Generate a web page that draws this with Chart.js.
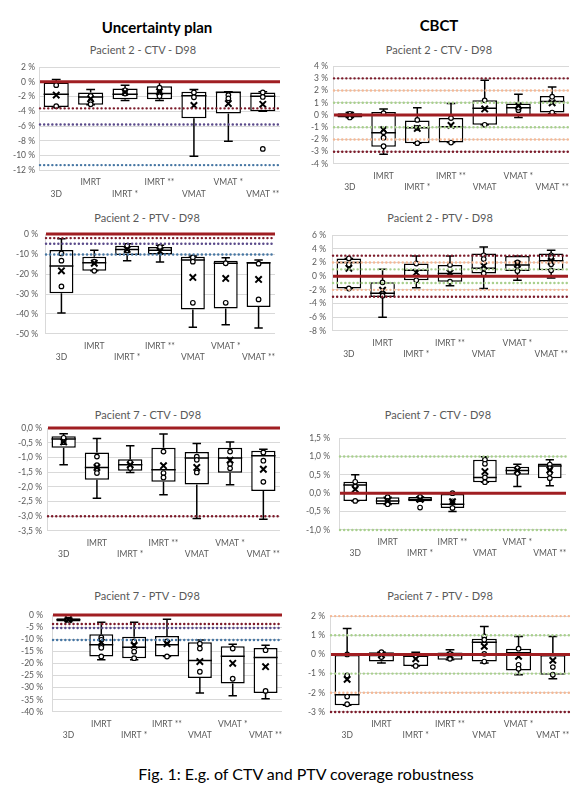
<!DOCTYPE html>
<html>
<head>
<meta charset="utf-8">
<script src="https://cdn.jsdelivr.net/npm/chart.js@4.4.0/dist/chart.umd.min.js"></script>
<style>
body { margin: 0; background: #fff; }
#page { position: relative; width: 586px; height: 800px; font-family: Lato, sans-serif; }
canvas { position: absolute; }
.head { position: absolute; font-weight: bold; font-size: 15px; transform: translate(-50%, -50%); white-space: nowrap; color: #000; }
.sub { position: absolute; font-size: 11px; transform: translate(-50%, -50%); white-space: nowrap; color: #595959; }
#caption { position: absolute; left: 306px; top: 773px; font-size: 16px; transform: translate(-50%, -50%); white-space: nowrap; color: #000; }
</style>
</head>
<body>
<div id="page">
  <div class="head" style="left:157px;top:27px">Uncertainty plan</div>
  <div class="head" style="left:439px;top:25px">CBCT</div>
  <div class="sub" style="left:143px;top:49px">Pacient 2 - CTV - D98</div>
  <div class="sub" style="left:439px;top:49px">Pacient 2 - CTV - D98</div>
  <div class="sub" style="left:147px;top:217px">Pacient 2 - PTV - D98</div>
  <div class="sub" style="left:440px;top:217px">Pacient 2 - PTV - D98</div>
  <div class="sub" style="left:148px;top:414px">Pacient 7 - CTV - D98</div>
  <div class="sub" style="left:438px;top:414px">Pacient 7 - CTV - D98</div>
  <div class="sub" style="left:147px;top:595px">Pacient 7 - PTV - D98</div>
  <div class="sub" style="left:440px;top:595px">Pacient 7 - PTV - D98</div>
  <canvas id="c1"></canvas>
  <canvas id="c2"></canvas>
  <canvas id="c3"></canvas>
  <canvas id="c4"></canvas>
  <canvas id="c5"></canvas>
  <canvas id="c6"></canvas>
  <canvas id="c7"></canvas>
  <canvas id="c8"></canvas>
  <div id="caption">Fig. 1: E.g. of CTV and PTV coverage robustness</div>
</div>
<script>
var categories = ['3D', 'IMRT', 'IMRT *', 'IMRT **', 'VMAT', 'VMAT *', 'VMAT **'];

// box rows: [min, q1, median, q3, max] in %
var p2CtvUncBox = [[-3.4,-3.4,-1.7,-0.1,0.3],[-3.1,-3.1,-2.05,-1.45,-1.05],[-2.55,-2.35,-1.7,-0.9,-0.45],[-2.55,-2.35,-1.6,-0.6,0],[-10.1,-4.95,-1.9,-1.35,-1.05],[-8.05,-4.3,-1.4,-1.35,-1.35],[-4.0,-4.0,-1.95,-1.45,-1.35]];
var p2CtvUncMean = [-1.8, -2.3, -1.4, -1.35, -3.2, -2.95, -3.05];
var p2CtvUncPts = [[-0.45,-3.3],[-1.9,-2.6,-3.05],[-1.15,-1.6],[-0.8,-1.45,-1.95],[-1.45,-2.1],[-1.8,-2.25],[-1.45,-2.05,-9.1]];
var p2CtvUncRefs = [0, -3.6, -5.8, -11.3];

var p2CtvCbctBox = [[-0.2,-0.2,-0.05,0.15,0.2],[-3.2,-2.6,-1.45,0.25,0.5],[-2.3,-2.3,-1.05,-0.45,0.6],[-2.25,-2.25,-0.95,-0.25,0.95],[-0.8,-0.8,0.55,1.2,2.85],[-0.2,-0.05,0.6,0.95,1.7],[0.1,0.2,1.1,1.55,2.3]];
var p2CtvCbctMean = [0, -1.2, -1.1, -0.85, 0.5, 0.75, 1.0];
var p2CtvCbctPts = [[0.1,-0.2],[0.15,-1.4,-1.85,-2.55],[-0.4,-1.05,-2.3],[-0.25,-2.25],[1.2,-0.8],[0.4,0.6],[1.5,0.2]];

var p2PtvUncBox = [[-39.5,-29.6,-16,-8,-2.3],[-18.4,-18.4,-14.3,-11.3,-8.1],[-13.3,-10.5,-7.7,-5.8,-4.8],[-14,-10.2,-8.1,-6.4,-5.6],[-46.7,-37.7,-13,-11.3,-11],[-45.4,-37.3,-14.6,-13.3,-11.8],[-47,-36.5,-14.3,-14.1,-13]];
var p2PtvUncMean = [-18.4, -14.6, -7.7, -8.6, -21.7, -22.2, -22.7];
var p2PtvUncPts = [[-9.7,-13.3,-26.2],[-13.8,-18.4],[-5.8,-8.2],[-6.4],[-11.7,-13.8,-34.4],[-14.6,-34.4],[-14.8,-32.7]];
var p2PtvUncRefs = [0, -2.0, -4.8, -10.2];

var p2PtvCbctBox = [[-1.8,-1.8,2.0,2.6,2.6],[-6.0,-3.05,-2.5,-0.9,1.0],[-1.7,-0.6,0.85,1.85,2.95],[-1.4,-0.8,0.4,1.65,2.95],[-1.8,0.4,1.15,3.3,4.25],[-0.6,0.75,1.65,2.95,2.95],[-0.25,0.85,2.25,3.3,3.8]];
var p2PtvCbctMean = [1.15, -2.05, 0.55, 0.45, 1.5, 1.75, 2.15];
var p2PtvCbctPts = [[2.6,1.7,-1.8],[-0.9,-2.85],[1.85,-0.6],[1.65,-0.8],[3.05,2.5,1.15,0.4],[2.0,1.5,0.75],[3.05,2.8,1.75,0.85]];

var p7CtvUncBox = [[-1.25,-0.67,-0.37,-0.28,-0.19],[-2.39,-1.76,-1.34,-0.83,-0.35],[-1.51,-1.45,-1.25,-1.06,-0.6],[-2.27,-1.83,-1.42,-0.67,-0.2],[-3.08,-1.92,-1.02,-0.81,-0.52],[-1.93,-1.52,-1.02,-0.67,-0.47],[-3.1,-2.14,-0.94,-0.77,-0.72]];
var p7CtvUncMean = [-0.47, -1.34, -1.25, -1.28, -1.34, -1.09, -1.4];
var p7CtvUncPts = [[-0.33,-0.48],[-0.97,-1.26,-1.4,-1.53],[-1.17,-1.36],[-0.8,-1.53,-1.68],[-0.97,-1.08,-1.51],[-0.8,-1.22,-1.37],[-0.83,-1.11,-1.83]];
var p7CtvUncRefs = [0, -3.0, null, null];

var p7CtvCbctBox = [[-0.21,-0.21,0.22,0.31,0.5],[-0.31,-0.31,-0.21,-0.11,-0.11],[-0.22,-0.22,-0.17,-0.1,-0.1],[-0.5,-0.4,-0.3,-0.02,0],[0.3,0.3,0.43,0.91,0.99],[0.18,0.5,0.62,0.72,0.79],[0.2,0.41,0.74,0.81,0.91]];
var p7CtvCbctMean = [0.11, -0.21, -0.17, -0.23, 0.59, 0.62, 0.63];
var p7CtvCbctPts = [[0.31,0.18,-0.21],[-0.11,-0.21,-0.3],[-0.1,-0.39],[0,-0.22,-0.4],[0.91,0.8,0.43,0.3],[0.68,0.55],[0.78,0.68,0.55,0.41]];

var p7PtvUncBox = [[-2.6,-2.6,-1.95,-1.3,-1.3],[-18.4,-17.1,-12.2,-7.9,-3],[-18.4,-17.8,-13.3,-8.9,-3],[-17.1,-17.1,-12.2,-8.6,-1.7],[-32.2,-26,-18.8,-11.2,-10.3],[-33.3,-28.3,-17,-12.9,-12],[-34.6,-32.2,-17.5,-13.6,-12.5]];
var p7PtvUncMean = [-1.85, -11.2, -12.5, -11.8, -19.2, -19.9, -21.3];
var p7PtvUncPts = [[-1.95],[-9.2,-10.2,-12.9,-13.5,-17.1],[-10.9,-15.1,-17.8],[-10.9,-17.1],[-11.8,-13.8,-23.4],[-13.8,-26.3],[-14.5,-31.3]];
var p7PtvUncRefs = [0, -3.7, -5.3, -10.3];

var p7PtvCbctBox = [[-2.65,-2.65,-2.1,0,1.35],[-0.45,-0.37,-0.05,0.12,0.12],[-0.6,-0.6,-0.09,0.03,0.12],[-0.28,-0.28,-0.05,0.1,0.24],[-0.45,-0.37,0.64,0.82,1.46],[-1.06,-0.84,0.09,0.3,0.94],[-1.27,-1.06,-0.05,0,0.94]];
var p7PtvCbctMean = [-1.3, -0.02, -0.23, -0.05, 0.42, -0.1, -0.31];
var p7PtvCbctPts = [[0,-1.1,-2.2,-2.6],[0.12,-0.14],[-0.09,-0.6],[0.03,-0.23],[0.94,0.77,0.03,-0.37],[0.3,-0.54,-0.75],[-0.66,-1.06]];

// CBCT tolerance levels, same for all CBCT panels
var cbctRefs = [0, 1, -1, 2, -2, 3, -3];

var lineStyles = {
  zero: { color: '#a01e22', width: 3, dotted: false },
  dr: { color: '#7c1b2a', width: 2.4, dotted: true },
  pu: { color: '#5a4a8a', width: 2.4, dotted: true },
  bl: { color: '#4676a3', width: 2.4, dotted: true },
  gr: { color: '#a9d08e', width: 2.4, dotted: true },
  sa: { color: '#f5b895', width: 2.4, dotted: true }
};
var uncRefStyles = ['zero', 'dr', 'pu', 'bl'];
var cbctRefStyles = ['zero', 'gr', 'gr', 'sa', 'sa', 'dr', 'dr'];

// whiskers + medians, drawn right after the boxes so points sit on top
var boxPlugin = {
  id: 'boxWhiskers',
  afterDatasetDraw: function(chart, args) {
    if (args.index !== 0) return;
    var ctx = chart.ctx, y = chart.scales.y;
    var meta = chart.getDatasetMeta(0);
    var stats = chart.data.datasets[0].stats;
    ctx.save();
    ctx.strokeStyle = '#000';
    ctx.lineWidth = 1.5;
    stats.forEach(function(b, i) {
      var bar = meta.data[i], cx = bar.x, hw = bar.width / 2, cap = hw * 0.35;
      ctx.beginPath();
      ctx.moveTo(cx, y.getPixelForValue(b[3])); ctx.lineTo(cx, y.getPixelForValue(b[4]));
      ctx.moveTo(cx - cap, y.getPixelForValue(b[4])); ctx.lineTo(cx + cap, y.getPixelForValue(b[4]));
      ctx.moveTo(cx, y.getPixelForValue(b[1])); ctx.lineTo(cx, y.getPixelForValue(b[0]));
      ctx.moveTo(cx - cap, y.getPixelForValue(b[0])); ctx.lineTo(cx + cap, y.getPixelForValue(b[0]));
      ctx.moveTo(cx - hw, y.getPixelForValue(b[2])); ctx.lineTo(cx + hw, y.getPixelForValue(b[2]));
      ctx.stroke();
    });
    ctx.restore();
  }
};

var refPlugin = {
  id: 'refLines',
  afterDatasetsDraw: function(chart) {
    var ctx = chart.ctx, y = chart.scales.y, area = chart.chartArea;
    var refs = chart.data.datasets[0].refs, kinds = chart.data.datasets[0].refKinds;
    ctx.save();
    refs.forEach(function(v, i) {
      if (v === null || v < y.min || v > y.max) return;
      var st = lineStyles[kinds[i]];
      var py = y.getPixelForValue(v);
      ctx.beginPath();
      ctx.strokeStyle = st.color;
      ctx.lineWidth = st.width;
      ctx.lineCap = st.dotted ? 'round' : 'butt';
      ctx.setLineDash(st.dotted ? [0.1, 4] : []);
      ctx.moveTo(area.left + 1, py);
      ctx.lineTo(area.right, py);
      ctx.stroke();
    });
    ctx.restore();
  }
};

function makePanel(p) {
  var canvas = document.getElementById(p.id);
  var top = p.plotTop - 8, bottom = p.plotBottom + 42;
  canvas.width = 293;
  canvas.height = Math.round(bottom - top);
  canvas.style.left = p.left + 'px';
  canvas.style.top = top + 'px';
  var pts = [];
  p.pts.forEach(function(list, i) {
    list.forEach(function(v) { pts.push({ x: categories[i], y: v }); });
  });
  new Chart(canvas, {
    data: {
      labels: categories,
      datasets: [
        { type: 'bar', data: p.box.map(function(b) { return [b[1], b[3]]; }), stats: p.box, refs: p.refs, refKinds: p.refKinds,
          backgroundColor: '#fff', borderColor: '#000', borderWidth: 1.5, borderSkipped: false,
          barPercentage: 0.73, categoryPercentage: 1, order: 3 },
        { type: 'line', data: pts, showLine: false, pointRadius: 2.3, pointBackgroundColor: '#fff',
          pointBorderColor: '#000', pointBorderWidth: 1.2, order: 2 },
        { type: 'line', data: p.mean, showLine: false, pointStyle: 'crossRot', pointRadius: 4.5,
          pointBorderColor: '#000', pointBorderWidth: 2, order: 1 }
      ]
    },
    options: {
      responsive: false,
      animation: false,
      layout: { padding: { top: 8, bottom: canvas.height - (p.plotBottom - top) - 37.4, left: 0, right: p.left + 293 - p.plotRight } },
      plugins: { legend: { display: false }, tooltip: { enabled: false } },
      scales: {
        x: {
          grid: { display: false, drawTicks: false },
          border: { display: false },
          ticks: {
            autoSkip: false, maxRotation: 0, minRotation: 0, padding: 6, color: '#595959',
            font: { family: 'Lato', size: 8.5, lineHeight: 1.38 },
            callback: function(v, i) { var l = this.getLabelForValue(v); return i % 2 ? [l, ''] : ['', l]; }
          }
        },
        y: {
          min: p.yMin, max: p.yMax,
          grid: { color: '#d9d9d9', drawTicks: false },
          border: { display: true, color: '#d9d9d9' },
          ticks: {
            autoSkip: false, stepSize: p.step, padding: p.tickPad, color: '#595959', font: { family: 'Lato', size: 8.5 },
            callback: function(v) { return (Math.abs(v) < 1e-9 ? 0 : v).toFixed(p.dec).replace('.', ',') + ' %'; }
          },
          afterFit: function(s) { s.width = p.plotLeft - p.left; }
        }
      }
    },
    plugins: [boxPlugin, refPlugin]
  });
}

var panels = [
  { id: 'c1', left: 0, box: p2CtvUncBox, mean: p2CtvUncMean, pts: p2CtvUncPts, refs: p2CtvUncRefs, refKinds: uncRefStyles,
    yMin: -12, yMax: 2, step: 2, dec: 0, plotLeft: 39, plotRight: 280, plotTop: 65.7, plotBottom: 168, tickPad: 4 },
  { id: 'c2', left: 293, box: p2CtvCbctBox, mean: p2CtvCbctMean, pts: p2CtvCbctPts, refs: cbctRefs, refKinds: cbctRefStyles,
    yMin: -4, yMax: 4, step: 1, dec: 0, plotLeft: 333, plotRight: 569, plotTop: 64, plotBottom: 162, tickPad: 5 },
  { id: 'c3', left: 0, box: p2PtvUncBox, mean: p2PtvUncMean, pts: p2PtvUncPts, refs: p2PtvUncRefs, refKinds: uncRefStyles,
    yMin: -50, yMax: 0, step: 10, dec: 0, plotLeft: 45, plotRight: 275, plotTop: 230, plotBottom: 332, tickPad: 7 },
  { id: 'c4', left: 293, box: p2PtvCbctBox, mean: p2PtvCbctMean, pts: p2PtvCbctPts, refs: cbctRefs, refKinds: cbctRefStyles,
    yMin: -8, yMax: 6, step: 2, dec: 0, plotLeft: 332, plotRight: 568, plotTop: 232, plotBottom: 329, tickPad: 6 },
  { id: 'c5', left: 0, box: p7CtvUncBox, mean: p7CtvUncMean, pts: p7CtvUncPts, refs: p7CtvUncRefs, refKinds: uncRefStyles,
    yMin: -3.5, yMax: 0, step: 0.5, dec: 1, plotLeft: 47, plotRight: 280, plotTop: 426, plotBottom: 529, tickPad: 5 },
  { id: 'c6', left: 293, box: p7CtvCbctBox, mean: p7CtvCbctMean, pts: p7CtvCbctPts, refs: cbctRefs, refKinds: cbctRefStyles,
    yMin: -1, yMax: 1.5, step: 0.5, dec: 1, plotLeft: 339, plotRight: 566, plotTop: 432, plotBottom: 528, tickPad: 9 },
  { id: 'c7', left: 0, box: p7PtvUncBox, mean: p7PtvUncMean, pts: p7PtvUncPts, refs: p7PtvUncRefs, refKinds: uncRefStyles,
    yMin: -40, yMax: 0, step: 5, dec: 0, plotLeft: 52, plotRight: 282, plotTop: 609, plotBottom: 710, tickPad: 9 },
  { id: 'c8', left: 293, box: p7PtvCbctBox, mean: p7PtvCbctMean, pts: p7PtvCbctPts, refs: cbctRefs, refKinds: cbctRefStyles,
    yMin: -3, yMax: 2, step: 1, dec: 0, plotLeft: 330, plotRight: 570, plotTop: 614, plotBottom: 710, tickPad: 5 }
];

panels.forEach(makePanel);
</script>
</body>
</html>
